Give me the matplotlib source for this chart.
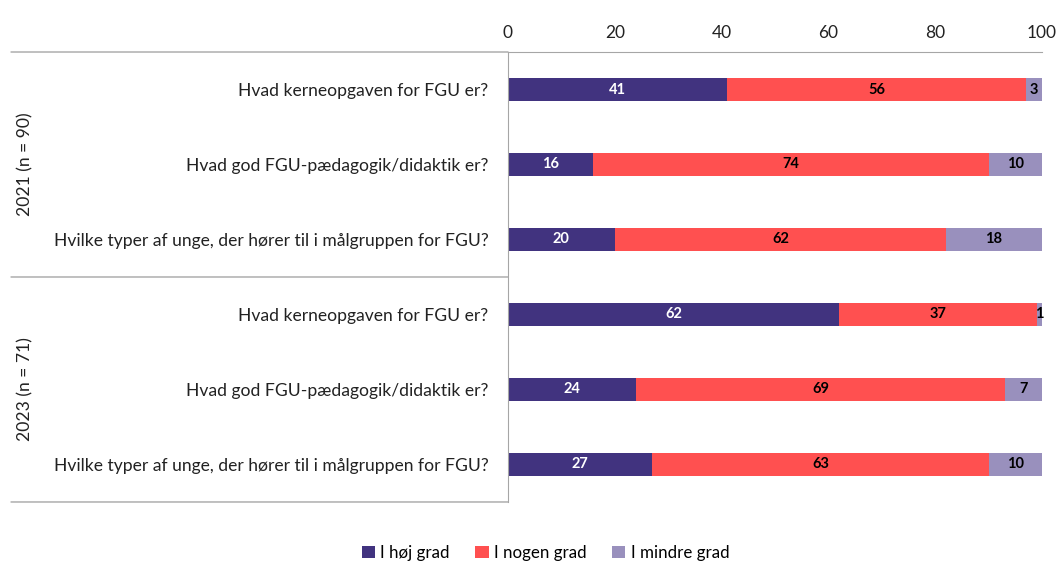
import matplotlib.pyplot as plt
import numpy as np

plt.rcParams['font.family'] = ['Lato', 'DejaVu Sans']

# data
questions = ['Hvad kerneopgaven for FGU er?',
             'Hvad god FGU-pædagogik/didaktik er?',
             'Hvilke typer af unge, der hører til i målgruppen for FGU?']
groups = ['2021 (n = 90)', '2023 (n = 71)']
hoej = [41, 16, 20, 62, 24, 27]
nogen = [56, 74, 62, 37, 69, 63]
mindre = [3, 10, 18, 1, 7, 10]
series_names = ['I høj grad', 'I nogen grad', 'I mindre grad']
ticks = [0, 20, 40, 60, 80, 100]

colors = ['#41337f', '#ff5050', '#9990bd']
txtcol = ['white', 'black', 'black']
gray = '#a6a6a6'

fig = plt.figure(figsize=(10.57, 5.61), dpi=100)
ax = fig.add_axes([0.4806, 0.1052, 0.5052, 0.8021])

y = np.arange(len(hoej))
left = np.zeros(len(hoej))
for vals, c, tc, name in zip([hoej, nogen, mindre], colors, txtcol, series_names):
    vals = np.array(vals)
    bars = ax.barh(y, vals, left=left, height=0.31, color=c, label=name)
    for b, v in zip(bars, vals):
        ax.text(b.get_x() + b.get_width() / 2, b.get_y() + b.get_height() / 2,
                str(v), ha='center', va='center', color=tc,
                fontsize=10.5, fontweight='bold')
    left += vals

ax.set_ylim(5.5, -0.5)
ax.set_xlim(0, 100)
ax.set_xticks(ticks)
ax.xaxis.tick_top()
ax.tick_params(axis='x', length=0, labelsize=12.5, pad=8, colors='#222222')
ax.set_yticks(y)
ax.set_yticklabels(questions * 2)
ax.tick_params(axis='y', length=0, labelsize=12.6, pad=14, colors='#222222')

for s in ['right', 'bottom']:
    ax.spines[s].set_visible(False)
ax.spines['top'].set_color(gray)
ax.spines['left'].set_color(gray)

# separator lines in the label area
x0 = 11 / 1057
for yy in [-0.5, 2.5, 5.5]:
    ax.annotate('', xy=(0, yy), xycoords=('axes fraction', 'data'),
                xytext=(x0, yy), textcoords=('figure fraction', 'data'),
                arrowprops=dict(arrowstyle='-', color=gray, lw=1,
                                shrinkA=0, shrinkB=0))

# group labels
for i, g in enumerate(groups):
    ax.annotate(g, xy=(25 / 1057, 1 + 3 * i), xycoords=('figure fraction', 'data'),
                rotation=90, ha='center', va='center', fontsize=12.6,
                color='#222222')

fig.legend(loc='lower center', bbox_to_anchor=(0.516, -0.027), ncol=3,
           frameon=False, fontsize=12.2, handlelength=0.8, handleheight=0.8,
           handletextpad=0.3, columnspacing=1.5)

fig.savefig('out.png', dpi=100)
